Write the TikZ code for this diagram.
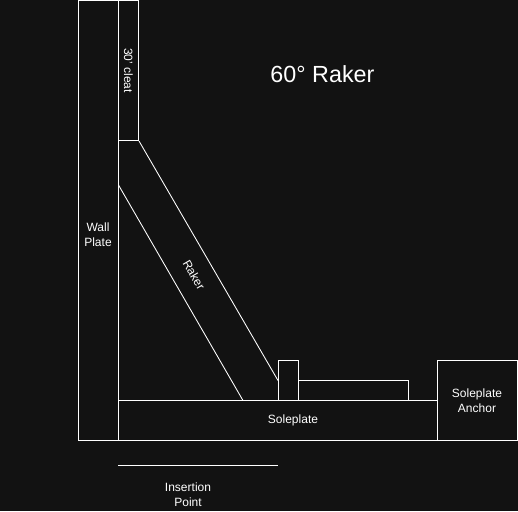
\documentclass[tikz,border=0pt]{standalone}
\usepackage{fontspec}
\setmainfont{Liberation Sans}
\definecolor{bgdark}{HTML}{121212}
\tikzset{
  part/.style={draw=white, line width=0.75pt, fill=bgdark, inner sep=0pt, minimum width=#1},
  lbl/.style={text=white, font=\fontsize{9}{11.25}\selectfont, align=center, inner sep=0pt},
}
\begin{document}
\begin{tikzpicture}[x=0.75pt,y=-0.75pt]
\useasboundingbox[fill=bgdark] (0,0) rectangle (518,511);
% timber parts
\node[part=30pt, minimum height=330pt] (wallplate) at (98.5,220.5) {};
\node[part=15pt, minimum height=105pt] (cleat) at (128.5,70.5) {};
\node[part=240pt, minimum height=30pt] (soleplate) at (278,420.5) {};
\node[part=60pt, minimum height=60pt] (anchor) at (477.5,400.5) {};
\node[part=15pt, minimum height=30pt] (wedge) at (288.5,380.5) {};
\node[part=82.5pt, minimum height=15pt] (block) at (353.5,390.5) {};
% raker
\coordinate (rakerB) at (cleat.south east);
\coordinate (rakerC) at (wedge.west);
\coordinate (rakerD) at (243,400.5);
\coordinate (rakerE) at (118.5,185);
\draw[white, line width=0.65pt] (rakerB) -- (rakerC);
\draw[white, line width=0.65pt] (rakerD) -- (rakerE);
% insertion point
\coordinate (insA) at (118,465.5);
\coordinate (insB) at (278,465.5);
\draw[white, line width=0.75pt] (insA) -- (insB);
% labels
\node[lbl] (walllabel) at (98,235) {Wall\\Plate};
\node[lbl] (solelabel) at (293,420) {Soleplate};
\node[lbl] (anchorlabel) at (477,400.5) {Soleplate\\Anchor};
\node[lbl, rotate=-90] (cleatlabel) at (128.5,70.5) {30' cleat};
\node[lbl, rotate=-60] (rakerlabel) at (194,275) {Raker};
\node[lbl] (inslabel) at (188,495) {Insertion\\Point};
\node[text=white, font=\fontsize{17.5}{22}\selectfont, inner sep=0pt] (title) at (322.5,74) {60° Raker};
\end{tikzpicture}
\end{document}
